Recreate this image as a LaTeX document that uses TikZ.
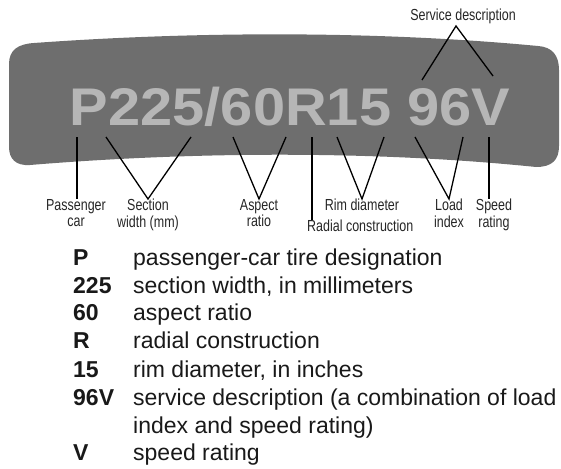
\documentclass[tikz,border=0pt]{standalone}
\usepackage{fontspec}
\setmainfont{Liberation Sans}
\newfontfamily\platefont[FakeStretch=1.09]{Liberation Sans}
\newfontfamily\tagfont[FakeStretch=0.78]{Liberation Sans}
\usetikzlibrary{positioning,calc}
\definecolor{plategray}{HTML}{6E6E6E}
\definecolor{codegray}{HTML}{B6B6B6}
\tikzset{
  plate/.style={fill=plategray},
  code/.style={font=\platefont\bfseries\fontsize{53}{53}\selectfont, text=codegray, inner sep=0pt},
  tag/.style={font=\tagfont\fontsize{16}{16.5}\selectfont, align=center, inner sep=0pt, text=black!85},
  lead/.style={line width=1.3pt},
  key/.style={font=\bfseries\fontsize{23}{28}\selectfont, inner sep=0pt, anchor=base west, text=black!90},
  desc/.style={font=\fontsize{23}{28}\selectfont, inner sep=0pt, anchor=base west, align=left, text=black!90}
}

\begin{document}
\begin{tikzpicture}[x=1pt, y=-1pt]
\useasboundingbox (0,0) rectangle (561,468);
% the plate
\fill[plate] (9,64) .. controls (9,50) and (18,44) .. (34,43)
  .. controls (200,31) and (380,31) .. (538,46)
  .. controls (552,47) and (559,55) .. (559,70) -- (559,146)
  .. controls (559,160) and (552,167) .. (536,167)
  .. controls (380,151) and (200,151) .. (30,165)
  .. controls (16,166) and (9,159) .. (9,147) -- cycle;
\node[code, anchor=base] (size) at (290,125) {P225/60R15 96V};

% where the leads touch the code
\coordinate (pc) at (77,137);
\coordinate (sw1) at (106,137); \coordinate (sw2) at (191,137);
\coordinate (ar1) at (233,137); \coordinate (ar2) at (286,137);
\coordinate (rc) at (312,137);
\coordinate (rd1) at (337,137); \coordinate (rd2) at (384,137);
\coordinate (li1) at (415,137); \coordinate (li2) at (463,137);
\coordinate (sr) at (489,137);
\coordinate (sd1) at (422,80); \coordinate (sd2) at (493,76);

% labels
\node[tag, anchor=north] (pcar) at (76,199) {Passenger\\car};
\node[tag, anchor=north] (secw) at (148,199) {Section\\width (mm)};
\node[tag, anchor=north] (aspr) at (259,199) {Aspect\\ratio};
\node[tag, anchor=north] (rimd) at (362,199) {Rim diameter};
\node[tag, anchor=north west] (radc) at (307,220) {Radial construction};
\node[tag, anchor=north] (ldix) at (449,199) {Load\\index};
\node[tag, anchor=north] (spdr) at (494,199) {Speed\\rating};
\node[tag, anchor=south] (svcd) at (463,24) {Service description};

\draw[lead] (pc) -- (pc |- pcar.north);
\draw[lead] (sw1) -- (secw.north) -- (sw2);
\draw[lead] (ar1) -- (aspr.north) -- (ar2);
\draw[lead] (rc) -- (rc |- radc.north);
\draw[lead] (rd1) -- (rimd.north) -- (rd2);
\draw[lead] (li1) -- (ldix.north) -- (li2);
\draw[lead] (sr) -- (sr |- spdr.north);
\draw[lead] (sd1) -- ([xshift=-7pt,yshift=-2pt]svcd.south) -- (sd2);

% key to the code
\node[key] (kP) at (73,265) {P};
\node[desc] (dP) at (133,265) {passenger-car tire designation};
\node[key] (kW) at (73,293) {225};
\node[desc] (dW) at (133,293) {section width, in millimeters};
\node[key] (kA) at (73,320) {60};
\node[desc] (dA) at (133,320) {aspect ratio};
\node[key] (kR) at (73,348) {R};
\node[desc] (dR) at (133,348) {radial construction};
\node[key] (kD) at (73,377) {15};
\node[desc] (dD) at (133,377) {rim diameter, in inches};
\node[key] (kS) at (73,405) {96V};
\node[desc] (dS) at (133,433) {service description (a combination of load\\index and speed rating)};
\node[key] (kV) at (73,460) {V};
\node[desc] (dV) at (133,460) {speed rating};
\end{tikzpicture}
\end{document}
